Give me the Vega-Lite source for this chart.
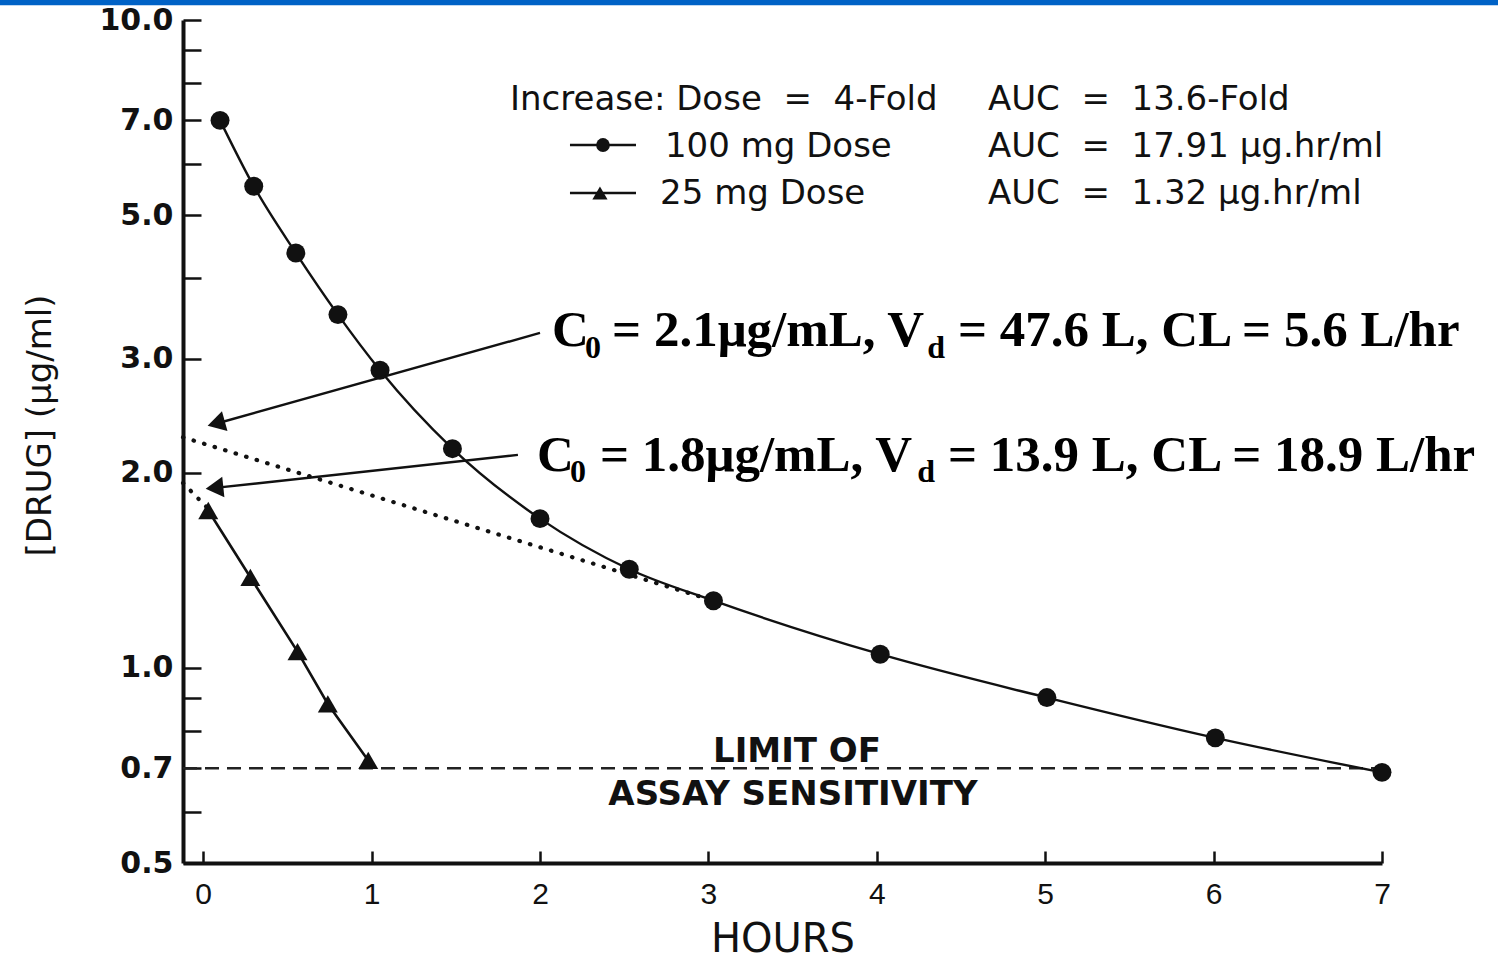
{
  "$schema": "https://vega.github.io/schema/vega-lite/v6.json",
  "width": 1199,
  "height": 843,
  "autosize": "none",
  "padding": {"left": 183, "top": 20, "right": 116, "bottom": 98},
  "background": "white",
  "config": {"view": {"stroke": null}, "axis": {"grid": false}},
  "datasets": {
    "d100": [
      {"x": 0.1, "y": 7.0}, {"x": 0.3, "y": 5.54}, {"x": 0.55, "y": 4.37}, {"x": 0.8, "y": 3.51},
      {"x": 1.05, "y": 2.88}, {"x": 1.48, "y": 2.18}, {"x": 2.0, "y": 1.70}, {"x": 2.53, "y": 1.42},
      {"x": 3.03, "y": 1.27}, {"x": 4.02, "y": 1.05}, {"x": 5.01, "y": 0.90}, {"x": 6.01, "y": 0.78},
      {"x": 7.0, "y": 0.69}
    ],
    "d25": [
      {"x": 0.03, "y": 1.75}, {"x": 0.28, "y": 1.38}, {"x": 0.56, "y": 1.06}, {"x": 0.74, "y": 0.88}, {"x": 0.98, "y": 0.72}
    ],
    "dotted": [
      {"seg": "a", "x": -0.12, "y": 2.27}, {"seg": "a", "x": 3.03, "y": 1.27},
      {"seg": "b", "x": -0.12, "y": 1.93}, {"seg": "b", "x": 0.03, "y": 1.76}
    ],
    "limit": [{"x": -0.12, "x2": 7.0, "y": 0.7}],
    "frame": [{"x": -1.3, "x2": 7.8, "y": 10.64}],
    "arrows": [
      {"x": 2.0, "y": 3.289, "x2": 0.08, "y2": 2.384},
      {"x": 1.869, "y": 2.132, "x2": 0.07, "y2": 1.896}
    ],
    "head1": [{"x": 0.077, "y": 2.384}],
    "head2": [{"x": 0.067, "y": 1.896}],
    "legline": [
      {"x": 2.178, "x2": 2.57, "y": 6.413},
      {"x": 2.178, "x2": 2.57, "y": 5.408}
    ],
    "legcirc": [{"x": 2.374, "y": 6.413}],
    "legtri": [{"x": 2.356, "y": 5.408}],
    "legtxt": [
      {"x": 1.822, "y": 7.262, "text": "Increase: Dose\u00a0 =\u00a0 4-Fold"},
      {"x": 4.66, "y": 7.262, "text": "AUC\u00a0 =\u00a0 13.6-Fold"},
      {"x": 2.742, "y": 6.147, "text": "100 mg Dose"},
      {"x": 4.66, "y": 6.147, "text": "AUC\u00a0 =\u00a0 17.91 μg.hr/ml"},
      {"x": 2.713, "y": 5.2, "text": "25 mg Dose"},
      {"x": 4.66, "y": 5.2, "text": "AUC\u00a0 =\u00a0 1.32 μg.hr/ml"}
    ],
    "limtxt": [
      {"x": 3.526, "y": 0.716, "text": "LIMIT OF"},
      {"x": 3.502, "y": 0.615, "text": "ASSAY SENSITIVITY"}
    ],
    "annmain": [
      {"x": 2.071, "y": 3.14, "text": "C"},
      {"x": 2.428, "y": 3.14, "text": "= 2.1μg/mL, V"},
      {"x": 4.482, "y": 3.14, "text": "= 47.6 L, CL = 5.6 L/hr"},
      {"x": 1.982, "y": 2.014, "text": "C"},
      {"x": 2.356, "y": 2.014, "text": "= 1.8μg/mL, V"},
      {"x": 4.423, "y": 2.014, "text": "= 13.9 L, CL = 18.9 L/hr"}
    ],
    "annsub": [
      {"x": 2.267, "y": 3.009, "text": "0"},
      {"x": 4.3, "y": 3.009, "text": "d"},
      {"x": 2.178, "y": 1.936, "text": "0"},
      {"x": 4.24, "y": 1.936, "text": "d"}
    ]
  },
  "encoding": {
    "x": {
      "field": "x", "type": "quantitative",
      "scale": {"domain": [-0.12, 7], "nice": false, "zero": false},
      "axis": {
        "values": [0, 1, 2, 3, 4, 5, 6, 7],
        "title": "HOURS",
        "tickSize": -12, "tickWidth": 2.5, "tickColor": "#111",
        "domainWidth": 4, "domainColor": "#111",
        "labelFont": "Liberation Sans", "labelFontSize": 30, "labelColor": "#111",
        "labelPadding": 28, "labelFlush": false, "labelOverlap": false,
        "titleFont": "DejaVu Sans", "titleFontSize": 40, "titleFontWeight": "normal",
        "titleColor": "#111", "titlePadding": 10
      }
    },
    "y": {
      "field": "y", "type": "quantitative",
      "scale": {"type": "log", "domain": [0.5, 10], "nice": false},
      "axis": {
        "values": [0.5, 0.6, 0.7, 0.8, 0.9, 1, 2, 3, 4, 5, 6, 7, 8, 9, 10],
        "labelExpr": "indexof([0.5, 0.7, 1, 2, 3, 5, 7, 10], datum.value) >= 0 ? format(datum.value, '.1f') : ''",
        "title": "[DRUG] (μg/ml)",
        "tickSize": -18, "tickWidth": 2.5, "tickColor": "#111",
        "domainWidth": 4, "domainColor": "#111",
        "labelFont": "DejaVu Sans", "labelFontSize": 30, "labelFontWeight": "bold", "labelColor": "#111",
        "labelPadding": 28, "labelFlush": false, "labelOverlap": false,
        "titleFont": "DejaVu Sans", "titleFontSize": 34, "titleFontWeight": "normal",
        "titleColor": "#111", "titleX": -143, "titleY": 405, "titleBaseline": "middle", "titleAngle": -90
      }
    }
  },
  "layer": [
    {"data": {"name": "frame"}, "mark": {"type": "rule", "color": "#0062c6", "strokeWidth": 5.5, "clip": false},
     "encoding": {"x2": {"field": "x2"}}},
    {"data": {"name": "limit"}, "mark": {"type": "rule", "color": "#222", "strokeWidth": 2.5, "strokeDash": [14, 8]},
     "encoding": {"x2": {"field": "x2"}}},
    {"data": {"name": "dotted"}, "mark": {"type": "line", "color": "#111", "strokeWidth": 4.2, "strokeCap": "round", "strokeDash": [0.5, 10.5]},
     "encoding": {"detail": {"field": "seg"}}},
    {"data": {"name": "d100"}, "mark": {"type": "line", "color": "#111", "strokeWidth": 2.4, "interpolate": "monotone"}, "encoding": {}},
    {"data": {"name": "d100"}, "mark": {"type": "point", "shape": "circle", "filled": true, "color": "#111", "size": 360, "opacity": 1}, "encoding": {}},
    {"data": {"name": "d25"}, "mark": {"type": "line", "color": "#111", "strokeWidth": 2.6}, "encoding": {}},
    {"data": {"name": "d25"}, "mark": {"type": "point", "shape": "triangle-up", "filled": true, "color": "#111", "size": 400, "opacity": 1}, "encoding": {}},
    {"data": {"name": "arrows"}, "mark": {"type": "rule", "color": "#111", "strokeWidth": 2.4},
     "encoding": {"x2": {"field": "x2"}, "y2": {"field": "y2"}}},
    {"data": {"name": "head1"}, "mark": {"type": "point", "shape": "triangle-left", "filled": true, "color": "#111", "size": 420, "opacity": 1, "angle": -15.6}, "encoding": {}},
    {"data": {"name": "head2"}, "mark": {"type": "point", "shape": "triangle-left", "filled": true, "color": "#111", "size": 420, "opacity": 1, "angle": -6}, "encoding": {}},
    {"data": {"name": "legline"}, "mark": {"type": "rule", "color": "#111", "strokeWidth": 2.4}, "encoding": {"x2": {"field": "x2"}}},
    {"data": {"name": "legcirc"}, "mark": {"type": "point", "shape": "circle", "filled": true, "color": "#111", "size": 190, "opacity": 1}, "encoding": {}},
    {"data": {"name": "legtri"}, "mark": {"type": "point", "shape": "triangle-up", "filled": true, "color": "#111", "size": 230, "opacity": 1}, "encoding": {}},
    {"data": {"name": "legtxt"}, "mark": {"type": "text", "font": "DejaVu Sans", "fontSize": 34, "align": "left", "baseline": "alphabetic", "color": "#111"},
     "encoding": {"text": {"field": "text"}}},
    {"data": {"name": "limtxt"}, "mark": {"type": "text", "font": "DejaVu Sans", "fontSize": 34, "fontWeight": "bold", "align": "center", "baseline": "alphabetic", "color": "#111"},
     "encoding": {"text": {"field": "text"}}},
    {"data": {"name": "annmain"}, "mark": {"type": "text", "font": "Liberation Serif", "fontSize": 51, "fontWeight": "bold", "align": "left", "baseline": "alphabetic", "color": "#000"},
     "encoding": {"text": {"field": "text"}}},
    {"data": {"name": "annsub"}, "mark": {"type": "text", "font": "Liberation Serif", "fontSize": 32, "fontWeight": "bold", "align": "left", "baseline": "alphabetic", "color": "#000"},
     "encoding": {"text": {"field": "text"}}}
  ]
}
